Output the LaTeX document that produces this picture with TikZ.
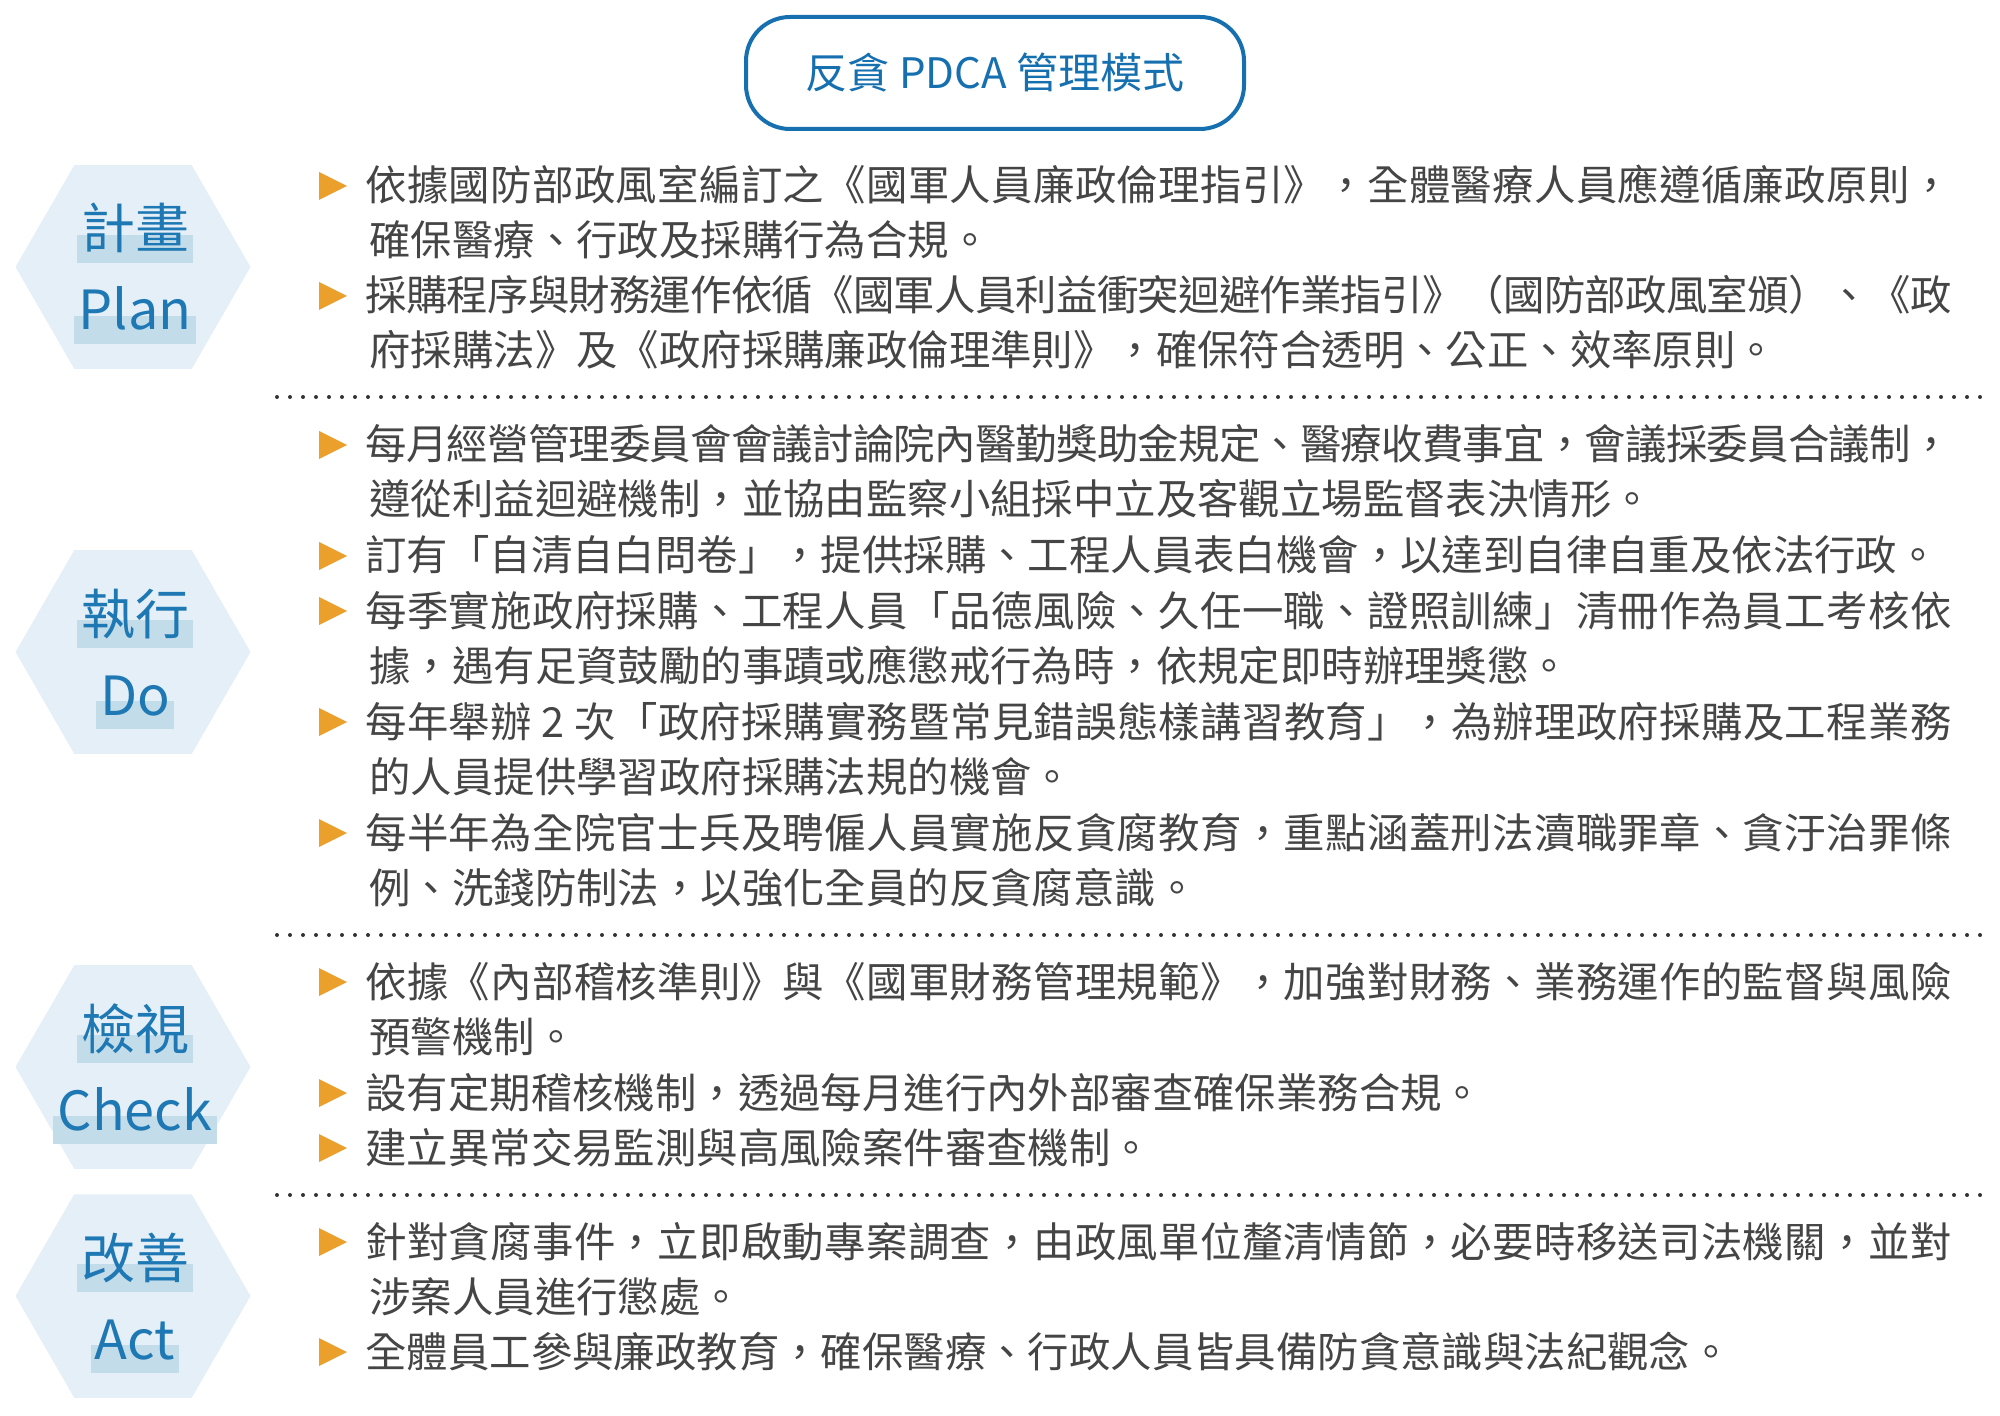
\documentclass[tikz,border=0pt]{standalone}
\usepackage{fontspec}
\setmainfont{Noto Sans CJK TC}
\usetikzlibrary{shapes.geometric,calc}
\definecolor{hexfill}{HTML}{E4EFF7}
\definecolor{hlc}{HTML}{C3DCEA}
\definecolor{lblue}{HTML}{1E78B4}
\definecolor{tblue}{HTML}{1670B0}
\definecolor{bulc}{HTML}{EBA02C}
\definecolor{txt}{HTML}{454545}
\definecolor{dotc}{HTML}{333333}
\pgfdeclarelayer{hexl}
\pgfdeclarelayer{hll}
\pgfsetlayers{hexl,hll,main}
\def\spreadA#1{#1\spreadB}
\def\spreadB#1{\ifx\relax#1\else\hskip0pt plus 1fil minus 1.5pt\relax#1\expandafter\spreadB\fi}
\newcommand\Spread[1]{\hbox to 793pt{\spreadA#1\relax}}
\tikzset{
  hexa/.style={regular polygon, regular polygon sides=6, minimum size=117.5pt, inner sep=0pt, fill=hexfill, draw=none},
  lblcjk/.style={inner sep=0pt, anchor=base, text=lblue, font=\fontsize{27pt}{30pt}\selectfont},
  lbllat/.style={inner sep=0pt, anchor=base, text=lblue, font=\fontsize{27pt}{30pt}\selectfont},
  hlbox/.style={fill=hlc},
  body/.style={inner sep=0pt, anchor=base west, text=txt, font=\fontsize{20.7pt}{24pt}\selectfont},
  bulletmark/.style={fill=bulc},
  sepline/.style={draw=dotc, line width=2pt, line cap=round, dash pattern=on 0pt off 6.5pt},
  titlebox/.style={draw=tblue, line width=2pt, rounded corners=22pt, minimum width=249pt, minimum height=56pt, inner sep=0pt, text=tblue, font=\fontsize{21pt}{24pt}\selectfont}
}
\newcommand\hexlabel[4]{%
  \begin{pgfonlayer}{hexl}\node[hexa] (#1) at (133,#2) {};\end{pgfonlayer}
  \node[lblcjk] (#1c) at (135,#2-18) {#3};
  \node[lbllat] (#1l) at (135,#2+63) {#4};
  \begin{pgfonlayer}{hll}
    \fill[hlbox] ($(#1c.base west)+(-4,-14)$) rectangle ($(#1c.base east)+(4,14)$);
    \fill[hlbox] ($(#1l.base west)+(-4,-14)$) rectangle ($(#1l.base east)+(4,14)$);
  \end{pgfonlayer}}
\newcommand\tri[1]{\fill[bulletmark] (319,#1-14) -- (347,#1) -- (319,#1+14) -- cycle;}
\newcommand\bl[3]{\tri{#2}\node[body] (#1) at (365,#2+15) {#3};}
\newcommand\bls[3]{\tri{#2}\node[body] (#1) at (365,#2+15) {\Spread{#3}};}
\newcommand\cl[3]{\node[body] (#1) at (369,#2+15) {#3};}
\begin{document}
\begin{tikzpicture}[x=0.5pt,y=-0.5pt]
\useasboundingbox (0,0) rectangle (2000,1416);
\node[titlebox] (title) at (995,73) {反貪 PDCA 管理模式};
\hexlabel{hplan}{267}{計畫}{Plan}
\hexlabel{hdo}{652}{執行}{Do}
\hexlabel{hcheck}{1067}{檢視}{Check}
\hexlabel{hact}{1296}{改善}{Act}
% Plan
\bls{p1}{186}{依據國防部政風室編訂之《國軍人員廉政倫理指引》，全體醫療人員應遵循廉政原則，}
\cl{p2}{241}{確保醫療、行政及採購行為合規。}
\bls{p3}{296}{採購程序與財務運作依循《國軍人員利益衝突迴避作業指引》（國防部政風室頒）、《政}
\cl{p4}{351}{府採購法》及《政府採購廉政倫理準則》，確保符合透明、公正、效率原則。}
\coordinate (s1a) at (277,397); \coordinate (s1b) at (1992,397);
\draw[sepline] (s1a) -- (s1b);
% Do
\bls{d1}{445}{每月經營管理委員會會議討論院內醫勤獎助金規定、醫療收費事宜，會議採委員合議制，}
\cl{d2}{500}{遵從利益迴避機制，並協由監察小組採中立及客觀立場監督表決情形。}
\bl{d3}{556}{訂有「自清自白問卷」，提供採購、工程人員表白機會，以達到自律自重及依法行政。}
\bls{d4}{611}{每季實施政府採購、工程人員「品德風險、久任一職、證照訓練」清冊作為員工考核依}
\cl{d5}{666}{據，遇有足資鼓勵的事蹟或應懲戒行為時，依規定即時辦理獎懲。}
\bls{d6}{722}{每年舉辦{\ }2{\ }次「政府採購實務暨常見錯誤態樣講習教育」，為辦理政府採購及工程業務}
\cl{d7}{777}{的人員提供學習政府採購法規的機會。}
\bls{d8}{833}{每半年為全院官士兵及聘僱人員實施反貪腐教育，重點涵蓋刑法瀆職罪章、貪汙治罪條}
\cl{d9}{888}{例、洗錢防制法，以強化全員的反貪腐意識。}
\coordinate (s2a) at (277,935); \coordinate (s2b) at (1992,935);
\draw[sepline] (s2a) -- (s2b);
% Check
\bls{c1}{982}{依據《內部稽核準則》與《國軍財務管理規範》，加強對財務、業務運作的監督與風險}
\cl{c2}{1037}{預警機制。}
\bl{c3}{1093}{設有定期稽核機制，透過每月進行內外部審查確保業務合規。}
\bl{c4}{1148}{建立異常交易監測與高風險案件審查機制。}
\coordinate (s3a) at (277,1195); \coordinate (s3b) at (1992,1195);
\draw[sepline] (s3a) -- (s3b);
% Act
\bls{a1}{1242}{針對貪腐事件，立即啟動專案調查，由政風單位釐清情節，必要時移送司法機關，並對}
\cl{a2}{1297}{涉案人員進行懲處。}
\bl{a3}{1352}{全體員工參與廉政教育，確保醫療、行政人員皆具備防貪意識與法紀觀念。}
\end{tikzpicture}
\end{document}
